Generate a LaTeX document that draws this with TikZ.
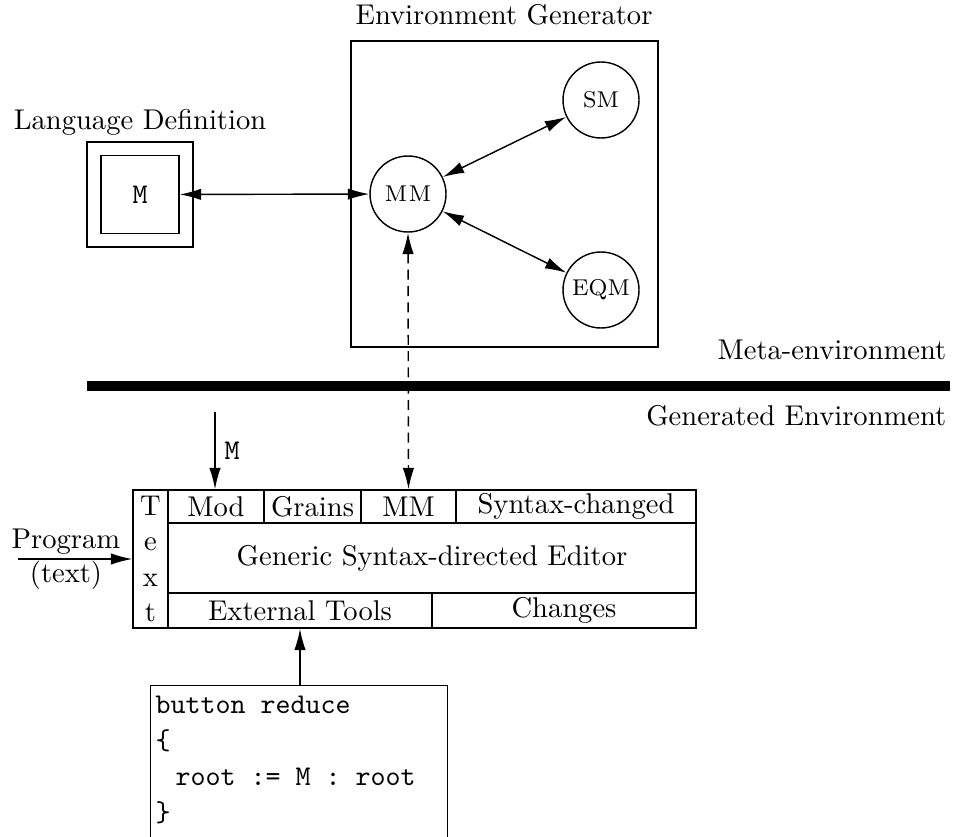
\documentclass[tikz,border=0pt]{standalone}
\usetikzlibrary{arrows.meta}
\begin{document}
\begin{tikzpicture}[x=0.35pt,y=-0.35pt,
  line width=0.5pt,
  tip/.tip={Latex[length=7.5pt,width=4pt]},
  twoway/.style={tip-tip},
  oneway/.style={-tip},
  circ/.style={circle,draw,minimum size=26.6pt,inner sep=0pt,font=\footnotesize},
  cell/.style={rectangle,draw,inner sep=0pt,minimum height=11.55pt},
  lab/.style={inner sep=0pt},
  codeline/.style={inner sep=0pt,anchor=base west,font=\ttfamily}]
\useasboundingbox (0,0) rectangle (957,836);

% Environment generator
\node[rectangle,draw,minimum width=107.45pt,minimum height=107.1pt,inner sep=0pt] (envbox) at (504.5,194) {};
\node[lab,anchor=base] (envlab) at (504,25) {Environment Generator};
\node[circ] (mm) at (408,194) {M\kern0.6pt M};
\node[circ] (sm) at (601,100) {SM};
\node[circ] (eqm) at (601,290) {EQM};

% Language definition
\node[rectangle,draw,minimum width=37.1pt,minimum height=36.75pt,inner sep=0pt] (langbox) at (140,194.5) {};
\node[rectangle,draw,minimum width=27.3pt,minimum height=27.3pt,inner sep=0pt,font=\ttfamily] (mbox) at (140,194.5) {M};
\node[lab,anchor=base] (langlab) at (140,130) {Language Definition};

\draw[twoway] (mbox) -- (mm);
\draw[twoway] (mm) -- (sm);
\draw[twoway] (mm) -- (eqm);

% separator
\coordinate (barL) at (87,386);
\coordinate (barR) at (950,386);
\draw[line width=3.6pt] (barL) -- (barR);
\node[lab,anchor=base east] (metalab) at (947,359) {Meta-environment};
\node[lab,anchor=base east] (genlab) at (947,425) {Generated Environment};

% editor
\node[cell,minimum width=12.25pt,minimum height=48.3pt] (txt) at (150.5,559) {};
\node[lab,align=center] (txtlab) at (150.5,559) {T\\[0.4pt]e\\[0.4pt]x\\[0.4pt]t};
\node[cell,minimum width=33.6pt] (mod) at (216,506.5) {Mod};
\node[cell,minimum width=33.95pt] (grains) at (312.5,506.5) {Grains};
\node[cell,minimum width=33.25pt] (mmc) at (408.5,506.5) {MM};
\node[cell,minimum width=84pt] (syn) at (576,506.5) {Syntax-changed};
\node[cell,minimum width=184.8pt,minimum height=24.5pt] (gen) at (432,558) {Generic Syntax-directed Editor};
\node[cell,minimum width=92.4pt,minimum height=12.25pt] (ext) at (300,610.5) {External Tools};
\node[cell,minimum width=92.4pt,minimum height=12.25pt] (chg) at (564,610.5) {Changes};

\draw[twoway,dashed,dash pattern=on 3.5pt off 2.2pt] (mm.south) -- (mmc.north);

\coordinate (mstart) at (215,412);
\draw[oneway] (mstart) -- (mstart |- mod.north);
\node[lab,font=\ttfamily,anchor=base] (mlab) at (232,459) {M};

\coordinate (pstart) at (18,559);
\draw[oneway] (pstart) -- (txt.west);
\node[lab,anchor=base] (proglab) at (66,548) {Program};
\node[lab,anchor=base] (textlab) at (66,582) {(text)};

% code box
\node[rectangle,draw,anchor=north west,minimum width=103.95pt,minimum height=59.5pt,inner sep=0pt] (code) at (150,685) {};
\draw[oneway] (ext.south |- code.north) -- (ext.south);
\node[codeline] (c1) at (155,713) {button reduce};
\node[codeline] (c2) at (155,749) {\{};
\node[codeline] (c3) at (155,785) {\hspace*{7pt}root := M : root};
\node[codeline] (c4) at (155,821) {\}};
\end{tikzpicture}
\end{document}
